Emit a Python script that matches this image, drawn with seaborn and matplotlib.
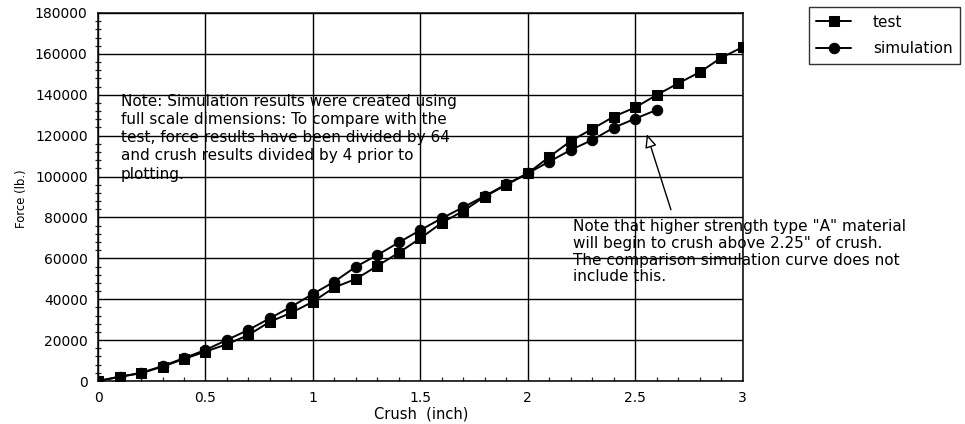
import matplotlib
matplotlib.use("Agg")
import matplotlib.pyplot as plt
from matplotlib.ticker import MultipleLocator
import seaborn as sns
import pandas as pd

# crush (inch) and force (lb.)
test_crush = [0.0, 0.1, 0.2, 0.3, 0.4, 0.5, 0.6, 0.7, 0.8, 0.9, 1.0,
              1.1, 1.2, 1.3, 1.4, 1.5, 1.6, 1.7, 1.8, 1.9, 2.0,
              2.1, 2.2, 2.3, 2.4, 2.5, 2.6, 2.7, 2.8, 2.9, 3.0]
test_force = [0, 2100, 3800, 7000, 10800, 14400, 18000, 22500, 29000, 33400, 38800,
              45800, 49900, 56300, 62800, 69800, 77400, 83200, 90200, 95900, 101600,
              109600, 117400, 123300, 129300, 133800, 139900, 145600, 151000, 158100, 163300]

sim_crush = [0.0, 0.1, 0.2, 0.3, 0.4, 0.5, 0.6, 0.7, 0.8, 0.9, 1.0,
             1.1, 1.2, 1.3, 1.4, 1.5, 1.6, 1.7, 1.8, 1.9, 2.0,
             2.1, 2.2, 2.3, 2.4, 2.5, 2.6]
sim_force = [0, 2000, 4000, 7300, 11200, 15200, 20100, 25000, 30700, 36400, 42600,
             48600, 55900, 61600, 67800, 73800, 79600, 85000, 90500, 96200, 101600,
             107300, 113000, 117900, 123900, 128300, 132600]

x_ticks = [0, 0.5, 1, 1.5, 2, 2.5, 3]
x_tick_labels = ["0", "0.5", "1", "1.5", "2", "2.5", "3"]

note_left = ("Note: Simulation results were created using\n"
             "full scale dimensions: To compare with the\n"
             "test, force results have been divided by 64\n"
             "and crush results divided by 4 prior to\n"
             "plotting.")
note_right = ("Note that higher strength type \"A\" material\n"
              "will begin to crush above 2.25\" of crush.\n"
              "The comparison simulation curve does not\n"
              "include this.")

test_df = pd.DataFrame({"crush": test_crush, "force": test_force})
sim_df = pd.DataFrame({"crush": sim_crush, "force": sim_force})

sns.set_style("white")
plt.rcParams["font.family"] = ["DejaVu Sans"]
plt.rcParams["text.color"] = "black"
plt.rcParams["axes.labelcolor"] = "black"

fig = plt.figure(figsize=(9.65, 4.24), dpi=100)
ax = fig.add_axes([0.1016, 0.1014, 0.668, 0.868])

sns.lineplot(data=test_df, x="crush", y="force", ax=ax, color="black", marker="s",
             markersize=7.5, markeredgecolor="black", linewidth=1.4, label="test")
sns.lineplot(data=sim_df, x="crush", y="force", ax=ax, color="black", marker="o",
             markersize=7.5, markeredgecolor="black", linewidth=1.4, label="simulation")

ax.set_xlim(0, 3)
ax.set_ylim(0, 180000)
ax.set_xticks(x_ticks)
ax.set_xticklabels(x_tick_labels)
ax.xaxis.set_minor_locator(MultipleLocator(0.1))
ax.yaxis.set_major_locator(MultipleLocator(20000))
ax.yaxis.set_minor_locator(MultipleLocator(4000))
ax.grid(True, which="major", color="black", linewidth=1.0)
ax.tick_params(axis="both", which="major", direction="out", length=4, width=1.0,
               labelsize=10, colors="black")
ax.tick_params(axis="x", which="minor", direction="in", length=3, width=0.9, bottom=True)
ax.tick_params(axis="y", which="minor", direction="inout", length=4, width=0.9, left=True)
for sp in ax.spines.values():
    sp.set_color("black")
    sp.set_linewidth(1.1)

ax.set_xlabel("Crush  (inch)", fontsize=10.5, color="black")
ax.set_ylabel("Force (lb.)", fontsize=8.4, color="black")
ax.xaxis.set_label_coords(0.502, -0.068)
ax.yaxis.set_label_coords(-0.109, 0.496)

ax.text(0.107, 140500, note_left, fontsize=11, va="top", ha="left",
        linespacing=1.27, color="black")
ax.text(2.21, 79000, note_right, fontsize=11, va="top", ha="left",
        linespacing=1.13, color="black", clip_on=False)
ax.annotate("", xy=(2.55, 122000), xytext=(2.67, 82500),
            arrowprops=dict(arrowstyle="-|>,head_length=0.8,head_width=0.35",
                            facecolor="white", edgecolor="black", linewidth=1.0))

leg = ax.legend(loc="upper left", bbox_to_anchor=(0.838, 0.983),
                bbox_transform=fig.transFigure, fontsize=11, frameon=True,
                fancybox=False, edgecolor="black", borderpad=0.5, borderaxespad=0,
                handlelength=2.3, handletextpad=1.4, labelspacing=0.75)
leg.get_frame().set_linewidth(1.0)
for t in leg.get_texts():
    t.set_color("black")

fig.savefig("out.png", dpi=100)
plt.close(fig)
